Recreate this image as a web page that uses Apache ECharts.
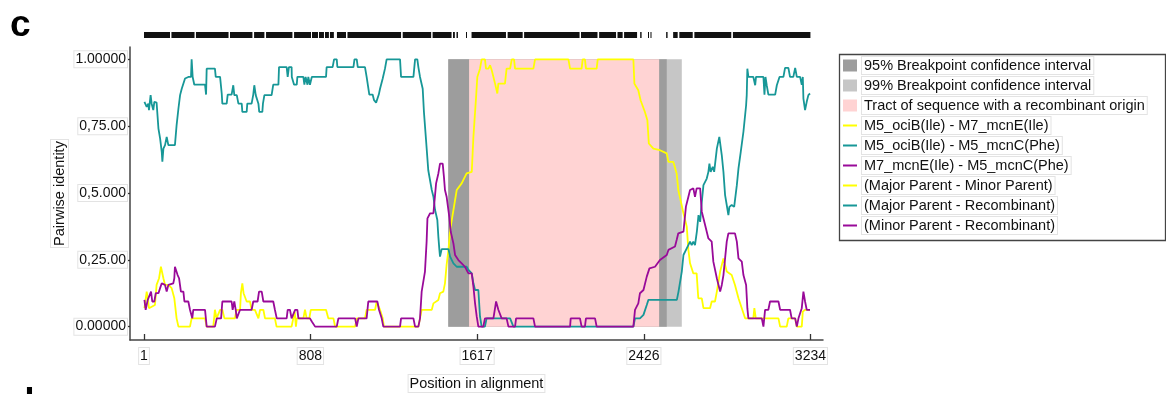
<!DOCTYPE html>
<html>
<head>
<meta charset="utf-8">
<title>Pairwise identity along the alignment</title>
<script src="https://cdn.jsdelivr.net/npm/echarts@6/dist/echarts.min.js"></script>
<style>
  html, body { margin: 0; padding: 0; background: #fff; }
  #chart { width: 1166px; height: 394px; }
</style>
</head>
<body>
<div id="chart"></div>
<script>
// ---- data ----
const xTicks = [1, 808, 1617, 2426, 3234];
const xTickLabels = ['1', '808', '1617', '2426', '3234'];
const yTicks = [0, 0.25, 0.5, 0.75, 1];
const yTickLabels = ['0.00000', '0,25.00', '0,5.000', '0,75.00', '1.00000'];

const seriesNames = [
  'M5_ociB(Ile) - M7_mcnE(Ile)',
  'M5_ociB(Ile) - M5_mcnC(Phe)',
  'M7_mcnE(Ile) - M5_mcnC(Phe)'
];
const pairNames = [
  '(Major Parent - Minor Parent)',
  '(Major Parent - Recombinant)',
  '(Minor Parent - Recombinant)'
];
const intervalNames = [
  '95% Breakpoint confidence interval',
  '99% Breakpoint confidence interval',
  'Tract of sequence with a recombinant origin'
];

// breakpoint intervals [start, end] in alignment positions
const ci99 = [[1477, 2610]];
const ci95 = [[1477, 2537]];
const tract = [[1578, 2500]];

// informative sites along the alignment, as runs [start, end]
const siteRuns = [
  [1,127],[134,246],[253,411],[418,527],[535,585],[593,721],[729,811],
  [816,845],[850,874],[879,898],[903,922],[937,981],[988,1248],[1256,1394],
  [1401,1493],[1500,1509],[1517,1524],[1563,1568],[1590,1757],[1765,1838],
  [1845,2114],[2121,2201],[2209,2291],[2298,2323],[2330,2393],[2408,2415],
  [2446,2451],[2458,2463],[2534,2541],[2568,2590],[2598,2663],[2671,2850],
  [2858,3234]
];

// M5_ociB(Ile) - M7_mcnE(Ile)
const identityAB = [
  [3,0.069],[14,0.131],[19,0.106],[25,0.069],[54,0.081],[62,0.156],[74,0.181],[83,0.224],[90,0.218],
  [95,0.181],[103,0.156],[119,0.156],[135,0.144],[148,0.106],[159,0.031],[168,0],[224,0],[232,0.031],
  [297,0.031],[305,0],[337,0],[345,0.063],[353,0.031],[362,0.031],[370,0.063],[381,0.063],[391,0.031],
  [442,0.031],[450,0.063],[467,0.063],[471,0.125],[478,0.162],[484,0.125],[499,0.094],[515,0.094],
  [523,0.063],[539,0.063],[556,0.031],[564,0.063],[580,0.063],[588,0.031],[636,0.031],[644,0],[717,0],
  [725,0.031],[732,0.056],[738,0],[742,0.031],[774,0.031],[782,0.063],[790,0.031],[803,0.031],
  [810,0.063],[884,0.063],[895,0.031],[920,0.031],[928,0],[1025,0],[1033,0.031],[1073,0.031],
  [1081,0.063],[1122,0.063],[1130,0.094],[1146,0.063],[1159,0.031],[1165,0],[1332,0],[1340,0.031],
  [1348,0.063],[1397,0.063],[1405,0.087],[1429,0.1],[1437,0.125],[1453,0.131],[1461,0.162],
  [1469,0.231],[1478,0.287],[1486,0.361],[1502,0.436],[1518,0.511],[1542,0.536],[1566,0.573],
  [1591,0.579],[1599,0.71],[1612,0.859],[1618,0.934],[1631,0.965],[1639,1.0],[1655,1.0],[1660,0.965],
  [1672,0.965],[1680,0.978],[1688,0.959],[1704,0.909],[1715,0.872],[1720,0.909],[1752,0.909],
  [1760,0.965],[1777,0.965],[1785,1.0],[1796,1.0],[1801,0.965],[1890,0.965],[1898,1.0],[2060,1.0],
  [2068,0.965],[2124,0.965],[2129,1.0],[2140,1.0],[2145,0.965],[2197,0.965],[2202,1.0],[2375,1.0],
  [2380,0.909],[2399,0.884],[2410,0.847],[2431,0.803],[2443,0.772],[2450,0.685],[2472,0.666],
  [2504,0.660],[2537,0.648],[2545,0.616],[2569,0.616],[2585,0.573],[2593,0.511],[2618,0.424],
  [2634,0.374],[2642,0.287],[2650,0.237],[2666,0.199],[2682,0.199],[2690,0.106],[2707,0.106],
  [2715,0.069],[2747,0.069],[2755,0.094],[2771,0.094],[2780,0.131],[2796,0.206],[2812,0.255],
  [2820,0.231],[2828,0.206],[2852,0.193],[2868,0.156],[2885,0.106],[2901,0.069],[2917,0.031],
  [2957,0.031],[2962,0.069],[2969,0.031],[3079,0.031],[3087,0],[3119,0],[3127,0.031],[3160,0.031],
  [3168,0],[3192,0],[3197,0.056],[3208,0.063],[3232,0.063]
];

// M5_ociB(Ile) - M5_mcnC(Phe)
const identityAC = [
  [3,0.841],[14,0.822],[22,0.834],[25,0.81],[33,0.866],[38,0.834],[46,0.81],[51,0.841],[62,0.838],
  [71,0.741],[79,0.704],[87,0.654],[90,0.617],[95,0.666],[103,0.679],[111,0.71],[119,0.679],
  [151,0.679],[159,0.753],[168,0.816],[176,0.866],[184,0.89],[200,0.928],[216,0.934],[229,0.934],
  [232,1.0],[237,0.934],[245,0.905],[297,0.905],[302,0.868],[305,0.965],[345,0.965],[349,0.934],
  [370,0.934],[378,0.872],[381,0.834],[402,0.834],[407,0.868],[426,0.868],[434,0.903],[439,0.866],
  [451,0.866],[459,0.834],[475,0.834],[478,0.803],[499,0.803],[502,0.834],[523,0.834],[531,0.868],
  [536,0.903],[543,0.866],[556,0.834],[560,0.803],[575,0.803],[578,0.834],[585,0.866],[620,0.866],
  [628,0.905],[653,0.905],[656,0.971],[693,0.971],[698,0.934],[704,0.971],[717,0.971],[718,0.934],
  [726,0.934],[729,0.905],[742,0.905],[745,0.934],[774,0.934],[779,0.905],[785,0.934],[794,0.905],
  [798,0.934],[806,0.905],[815,0.934],[884,0.934],[887,0.971],[916,0.971],[923,1.0],[936,1.0],
  [939,0.971],[1017,0.971],[1022,1.0],[1033,1.0],[1038,0.971],[1073,0.971],[1081,0.934],[1089,0.934],
  [1094,0.868],[1110,0.868],[1117,0.847],[1127,0.838],[1133,0.838],[1140,0.868],[1146,0.89],
  [1159,0.928],[1170,0.965],[1178,1.0],[1243,1.0],[1248,0.934],[1308,0.934],[1316,1.0],[1327,1.0],
  [1332,0.971],[1340,0.934],[1353,0.89],[1359,0.803],[1369,0.70],[1380,0.585],[1397,0.511],
  [1405,0.486],[1413,0.436],[1424,0.399],[1429,0.336],[1434,0.287],[1437,0.262],[1445,0.290],
  [1478,0.290],[1486,0.262],[1502,0.237],[1518,0.224],[1566,0.224],[1575,0.212],[1591,0.199],
  [1599,0.162],[1607,0.137],[1623,0.137],[1631,0.038],[1639,0],[1655,0],[1663,0.031],[1777,0.031],
  [1793,0],[2375,0],[2383,0.031],[2407,0.031],[2424,0.044],[2440,0.081],[2448,0.1],[2586,0.1],
  [2594,0.131],[2610,0.206],[2618,0.268],[2634,0.293],[2650,0.318],[2658,0.305],[2666,0.318],
  [2674,0.305],[2683,0.355],[2691,0.417],[2699,0.392],[2707,0.467],[2715,0.529],[2731,0.554],
  [2739,0.579],[2744,0.61],[2750,0.579],[2760,0.598],[2767,0.579],[2780,0.666],[2792,0.71],
  [2799,0.704],[2804,0.641],[2812,0.579],[2820,0.492],[2828,0.455],[2836,0.417],[2841,0.448],
  [2852,0.455],[2864,0.448],[2877,0.529],[2885,0.592],[2896,0.654],[2909,0.729],[2922,0.828],
  [2925,0.866],[2928,0.965],[2933,0.934],[2957,0.934],[2966,0.903],[2970,0.934],[3006,0.934],
  [3011,0.868],[3016,0.934],[3022,0.903],[3030,0.868],[3063,0.868],[3071,0.903],[3084,0.934],
  [3103,0.934],[3111,0.968],[3127,0.968],[3135,0.934],[3151,0.934],[3160,0.968],[3168,0.934],
  [3184,0.934],[3192,0.905],[3197,0.934],[3200,0.853],[3208,0.81],[3216,0.841],[3224,0.866],
  [3232,0.872]
];

// M7_mcnE(Ile) - M5_mcnC(Phe)
const identityBC = [
  [3,0.1],[9,0.063],[19,0.1],[35,0.131],[41,0.094],[51,0.094],[58,0.125],[71,0.125],[79,0.144],
  [87,0.162],[95,0.162],[103,0.156],[111,0.131],[119,0.156],[127,0.162],[143,0.162],[148,0.181],
  [151,0.224],[159,0.224],[164,0.193],[171,0.181],[180,0.131],[192,0.131],[197,0.094],[216,0.094],
  [224,0.063],[235,0.031],[240,0.063],[297,0.063],[305,0],[345,0],[354,0.031],[375,0.031],[381,0.094],
  [426,0.094],[431,0.063],[439,0.094],[446,0.063],[451,0.031],[459,0.031],[467,0.063],[523,0.063],
  [531,0.094],[552,0.094],[559,0.131],[572,0.131],[580,0.094],[628,0.094],[636,0.063],[645,0.031],
  [693,0.031],[698,0.063],[709,0.063],[717,0.031],[726,0.031],[734,0.063],[745,0.063],[750,0.031],
  [806,0.031],[815,0.019],[831,0],[936,0],[944,0.031],[1025,0.031],[1033,0],[1041,0.031],[1081,0.031],
  [1089,0.094],[1133,0.094],[1141,0.063],[1154,0.031],[1162,0],[1243,0],[1248,0.031],[1308,0.031],
  [1316,0],[1332,0],[1340,0.031],[1348,0.131],[1364,0.206],[1372,0.318],[1376,0.405],[1389,0.424],
  [1405,0.424],[1418,0.536],[1429,0.573],[1437,0.61],[1450,0.61],[1456,0.56],[1461,0.511],
  [1469,0.486],[1482,0.411],[1489,0.355],[1502,0.311],[1510,0.268],[1526,0.249],[1542,0.237],
  [1558,0.224],[1566,0.212],[1575,0.199],[1591,0.199],[1599,0.15],[1607,0.087],[1615,0.038],
  [1623,0],[1647,0],[1655,0.031],[1696,0.031],[1704,0.069],[1709,0.094],[1715,0.094],[1720,0.063],
  [1728,0.063],[1736,0.031],[1760,0.031],[1769,0],[1801,0],[1806,0.031],[1890,0.031],[1898,0],
  [2068,0],[2071,0.031],[2116,0.031],[2124,0],[2140,0],[2145,0.031],[2189,0.031],[2197,0],[2375,0],
  [2383,0.063],[2399,0.087],[2407,0.125],[2424,0.137],[2440,0.187],[2453,0.218],[2480,0.224],
  [2504,0.249],[2537,0.268],[2545,0.287],[2577,0.3],[2585,0.324],[2593,0.349],[2618,0.355],
  [2630,0.449],[2642,0.486],[2650,0.511],[2666,0.517],[2674,0.486],[2682,0.517],[2699,0.517],
  [2707,0.43],[2723,0.38],[2739,0.33],[2755,0.318],[2763,0.243],[2780,0.181],[2788,0.156],
  [2796,0.131],[2804,0.156],[2812,0.193],[2820,0.255],[2828,0.318],[2836,0.349],[2868,0.349],
  [2877,0.318],[2885,0.255],[2901,0.243],[2909,0.193],[2922,0.156],[2928,0.069],[2933,0.031],
  [2998,0.031],[3006,0],[3014,0.063],[3030,0.063],[3038,0.094],[3079,0.094],[3087,0.063],
  [3135,0.063],[3143,0.031],[3160,0.031],[3168,0],[3176,0.031],[3184,0.031],[3192,0.069],
  [3200,0.131],[3208,0.094],[3216,0.063],[3232,0.063]
];

// ---- styling ----
const FONT = 'Liberation Sans, Arial, Helvetica, sans-serif';
const COL_YELLOW = '#ffff00';
const COL_TEAL = '#179797';
const COL_PURPLE = '#990a99';
const COL_95 = '#9d9d9d';
const COL_99 = '#c6c6c6';
const COL_TRACT = '#ffd3d3';
const X_MIN = -67, X_MAX = 3295;
const Y_MIN = -0.05, Y_MAX = 1.046;
const labelBox = { borderColor: '#e3e3e3', borderWidth: 1, backgroundColor: '#fff', padding: [1, 1] };

function bandRenderer(params, api) {
  const p0 = api.coord([api.value(0), 1]);
  const p1 = api.coord([api.value(1), 0]);
  return {
    type: 'rect',
    shape: { x: p0[0], y: p0[1], width: p1[0] - p0[0], height: p1[1] - p0[1] },
    style: { fill: api.visual('color') }
  };
}

function runRenderer(params, api) {
  const p0 = api.coord([api.value(0), 1]);
  const p1 = api.coord([api.value(1), 0]);
  return {
    type: 'rect',
    shape: { x: p0[0], y: p0[1], width: Math.max(1, p1[0] - p0[0]), height: p1[1] - p0[1] },
    style: { fill: '#111' }
  };
}

function bandSeries(name, data, color, z) {
  return {
    name, type: 'custom', xAxisIndex: 0, yAxisIndex: 0,
    renderItem: bandRenderer, data, z,
    itemStyle: { color },
    encode: { x: [0, 1] }, silent: true
  };
}

function lineSeries(name, data, color, z) {
  return {
    name, type: 'line', xAxisIndex: 0, yAxisIndex: 0, data,
    symbol: 'none', showSymbol: false, z,
    lineStyle: { color, width: 1.8 }, itemStyle: { color },
    silent: true
  };
}

// legend entry for a line: plain stroke, no marker
function lineEntry(name) {
  return { name, itemStyle: { opacity: 0 } };
}

const chart = echarts.init(document.getElementById('chart'), null, { renderer: 'canvas' });

const option = {
  animation: false,
  backgroundColor: '#fff',
  textStyle: { fontFamily: FONT },
  grid: [
    { left: 130, right: 343, top: 47, bottom: 54, outerBoundsMode: 'none' },
    { left: 130, right: 343, top: 32, height: 6, outerBoundsMode: 'none' }
  ],
  xAxis: [
    {
      type: 'value', gridIndex: 0, min: X_MIN, max: X_MAX,
      name: 'Position in alignment', nameLocation: 'middle', nameGap: 35,
      nameTextStyle: Object.assign({ fontSize: 14.5, color: '#111', fontFamily: FONT }, labelBox),
      axisLine: { show: true, onZero: false, lineStyle: { color: '#444', width: 1.5 } },
      axisTick: { show: true, inside: true, length: 6, customValues: xTicks, lineStyle: { color: '#333', width: 1.3 } },
      axisLabel: Object.assign({
        customValues: xTicks, margin: 8, fontSize: 14, color: '#111', fontFamily: FONT,
        formatter: v => xTickLabels[xTicks.indexOf(v)]
      }, labelBox),
      splitLine: { show: false }
    },
    { type: 'value', gridIndex: 1, min: X_MIN, max: X_MAX, show: false }
  ],
  yAxis: [
    {
      type: 'value', gridIndex: 0, min: Y_MIN, max: Y_MAX,
      name: 'Pairwise identity', nameLocation: 'middle', nameGap: 62, nameMoveOverlap: false,
      nameTextStyle: Object.assign({ fontSize: 14.5, color: '#111', fontFamily: FONT }, labelBox),
      axisLine: { show: true, onZero: false, lineStyle: { color: '#444', width: 1.5 } },
      axisTick: { show: true, inside: false, length: 4, customValues: yTicks, lineStyle: { color: '#333', width: 1.3 } },
      axisLabel: Object.assign({
        customValues: yTicks, margin: 3, fontSize: 14, color: '#111', fontFamily: FONT,
        formatter: v => yTickLabels[yTicks.indexOf(v)]
      }, labelBox),
      splitLine: { show: false }
    },
    { type: 'value', gridIndex: 1, min: 0, max: 1, show: false }
  ],
  legend: {
    orient: 'vertical', left: 842, top: 56, padding: 0,
    itemWidth: 14, itemHeight: 12, itemGap: 1,
    selectedMode: false,
    textStyle: Object.assign({ fontSize: 14.5, color: '#111', fontFamily: FONT, lineHeight: 15 }, labelBox, { padding: [1, 2] }),
    data: [
      { name: intervalNames[0], icon: 'rect' },
      { name: intervalNames[1], icon: 'rect' },
      { name: intervalNames[2], icon: 'rect' },
      lineEntry(seriesNames[0]), lineEntry(seriesNames[1]), lineEntry(seriesNames[2]),
      lineEntry(pairNames[0]), lineEntry(pairNames[1]), lineEntry(pairNames[2])
    ]
  },
  graphic: [
    {
      type: 'rect', left: 837, top: 52, z: 100, silent: true,
      shape: { width: 326, height: 186 },
      style: { fill: null, stroke: '#444', lineWidth: 1.3 }
    },
    {
      type: 'text', x: 10, y: 26, silent: true,
      style: { text: 'c', font: 'bold 37px ' + FONT, fill: '#000', verticalAlign: 'middle' }
    },
    {
      type: 'text', x: 12, y: 404, silent: true,
      style: { text: 'd', font: 'bold 37px ' + FONT, fill: '#000', verticalAlign: 'middle' }
    }
  ],
  series: [
    bandSeries(intervalNames[1], ci99, COL_99, 1),
    bandSeries(intervalNames[0], ci95, COL_95, 2),
    bandSeries(intervalNames[2], tract, COL_TRACT, 3),
    lineSeries(seriesNames[0], identityAB, COL_YELLOW, 4),
    lineSeries(seriesNames[1], identityAC, COL_TEAL, 5),
    lineSeries(seriesNames[2], identityBC, COL_PURPLE, 6),
    lineSeries(pairNames[0], [], COL_YELLOW, 4),
    lineSeries(pairNames[1], [], COL_TEAL, 5),
    lineSeries(pairNames[2], [], COL_PURPLE, 6),
    {
      name: 'Informative sites', type: 'custom', xAxisIndex: 1, yAxisIndex: 1,
      renderItem: runRenderer, data: siteRuns, encode: { x: [0, 1] }, silent: true
    }
  ]
};

chart.setOption(option);
</script>
</body>
</html>
